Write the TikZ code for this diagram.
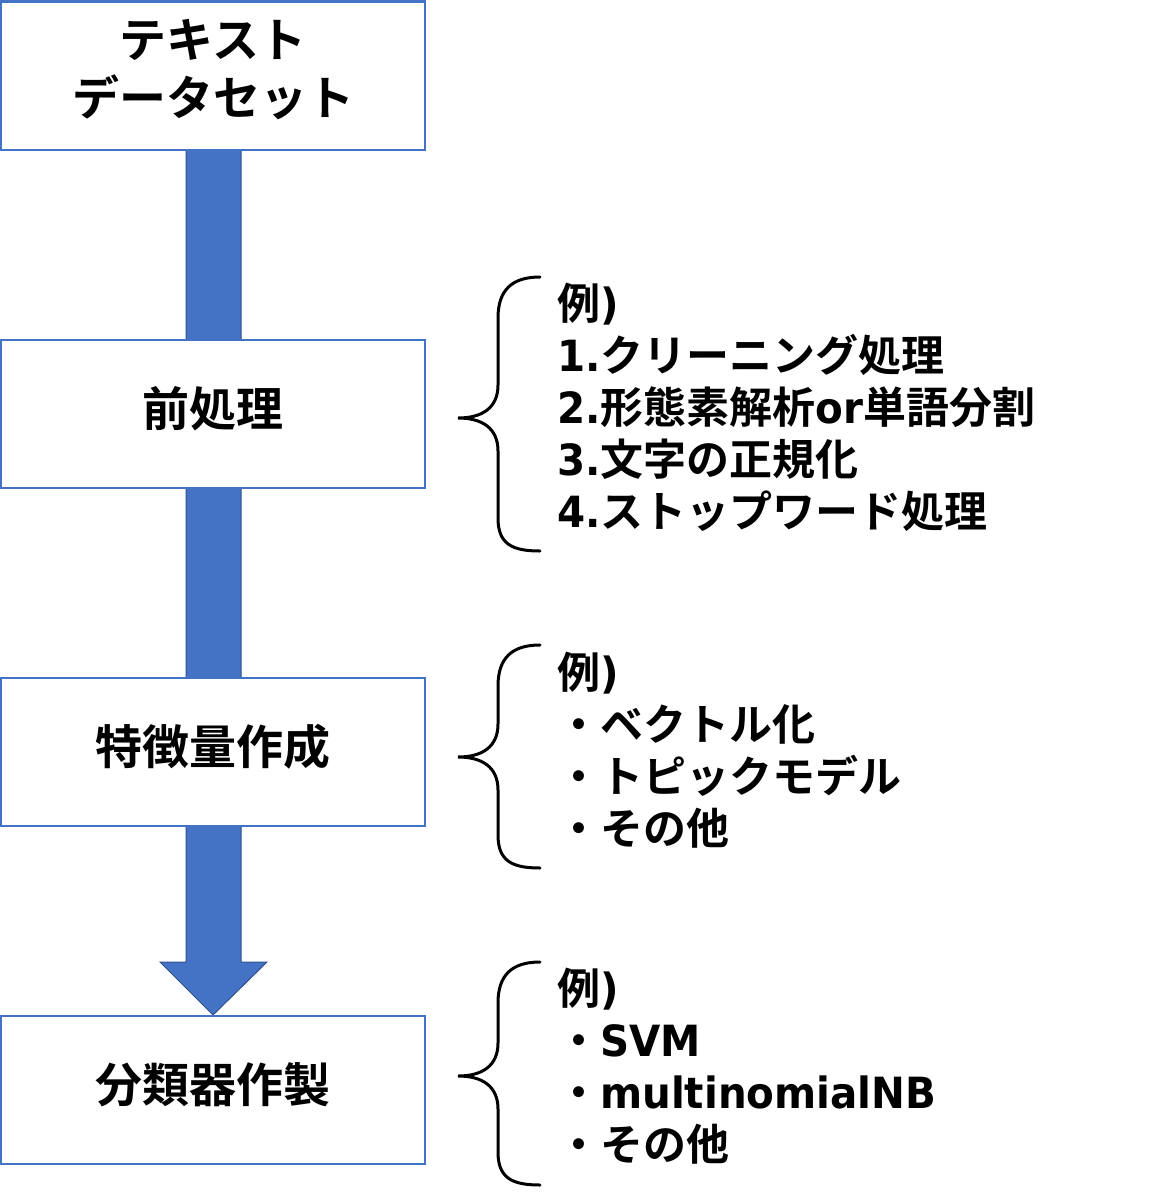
\documentclass[tikz,border=0pt]{standalone}
\usepackage{fontspec}
\setmainfont{Noto Sans CJK JP}[BoldFont={* Bold}]
\newfontfamily\lat{DejaVu Sans}[BoldFont={* Bold},FakeStretch=0.94]
\definecolor{boxblue}{HTML}{4472C4}
\definecolor{arrowedge}{HTML}{2F528F}
\begin{document}
\begin{tikzpicture}[x=1pt,y=-1pt,
  flowbox/.style={draw=boxblue,line width=2.5pt,fill=white,minimum width=424pt,
    inner sep=0pt,align=center,text height=86pt,text depth=62pt,font=\bfseries\fontsize{47}{55}\selectfont},
  listtext/.style={anchor=west,inner sep=0pt,align=left,font=\bfseries\fontsize{43}{52}\selectfont},
  bracepath/.style={draw=black,line width=3pt,line cap=round}]
\useasboundingbox (0,0) rectangle (1169,1200);
% arrow (behind boxes)
\coordinate (atip) at (213,1015);
\filldraw[fill=boxblue,draw=arrowedge,line width=1pt]
  (186,140) -- (186,962) -- (160,962) -- (atip) -- (267,962) -- (241,962) -- (241,140) -- cycle;
% boxes
\node[flowbox,text height=113.5pt,text depth=35pt] (b1) at (213,75.75)
  {\begin{tabular}[b]{@{}c@{}}テキスト\\データセット\end{tabular}};
\node[flowbox] (b2) at (213,414) {前処理};
\node[flowbox] (b3) at (213,752) {特徴量作成};
\node[flowbox] (b4) at (213,1090) {分類器作製};
% braces
\draw[bracepath] (540,277) .. controls (512,277) and (498,290) .. (498,318) -- (498,385)
  .. controls (498,408) and (482,418) .. (458,418)
  .. controls (482,418) and (498,428) .. (498,451) -- (498,518)
  .. controls (498,544) and (512,551) .. (540,551);
\draw[bracepath] (540,645) .. controls (512,645) and (498,658) .. (498,686) -- (498,724)
  .. controls (498,747) and (482,757) .. (458,757)
  .. controls (482,757) and (498,767) .. (498,790) -- (498,835)
  .. controls (498,861) and (512,868) .. (540,868);
\draw[bracepath] (540,962) .. controls (512,962) and (498,975) .. (498,1003) -- (498,1043)
  .. controls (498,1066) and (482,1076) .. (458,1076)
  .. controls (482,1076) and (498,1086) .. (498,1109) -- (498,1152)
  .. controls (498,1178) and (512,1185) .. (540,1185);
% lists
\node[listtext] (t1) at (557,407) {例{\lat)}\\{\lat 1.}クリーニング処理\\{\lat 2.}形態素解析{\lat or}単語分割\\{\lat 3.}文字の正規化\\{\lat 4.}ストップワード処理};
\node[listtext] (t2) at (557,750) {例{\lat)}\\・ベクトル化\\・トピックモデル\\・その他};
\node[listtext] (t3) at (557,1066) {例{\lat)}\\・{\lat SVM}\\・{\lat multinomialNB}\\・その他};
\end{tikzpicture}
\end{document}
